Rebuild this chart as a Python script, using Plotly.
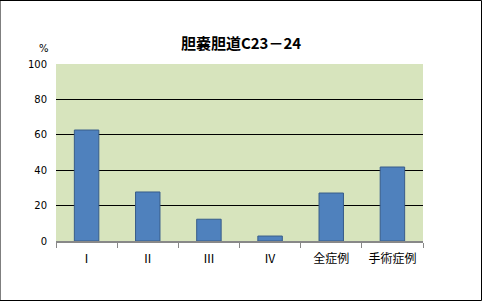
import plotly.graph_objects as go

categories = ["Ⅰ", "Ⅱ", "Ⅲ", "Ⅳ", "全症例", "手術症例"]
values = [62.7, 27.7, 12.3, 2.8, 27.1, 41.8]
y_ticks = [0, 20, 40, 60, 80, 100]

fig = go.Figure()
fig.add_trace(go.Bar(
    x=categories, y=values,
    marker=dict(color="#4F81BD", line=dict(color="#385D8A", width=1)),
    width=0.4,
))

fig.update_layout(
    width=482, height=301,
    margin=dict(l=56, r=59, t=64, b=60),
    paper_bgcolor="white",
    plot_bgcolor="#D7E4BD",
    showlegend=False,
    title=dict(text="<b>胆嚢胆道C23－24</b>", x=0.5, xanchor="center", y=0.855, yanchor="middle",
               font=dict(family="Noto Sans CJK JP", size=15, color="black")),
    xaxis=dict(
        tickson="boundaries", ticks="outside", ticklen=5, tickcolor="#888888",
        showline=True, linecolor="#888888", linewidth=1.5, showgrid=False,
        ticklabelstandoff=6,
        tickfont=dict(family="Noto Sans CJK JP", size=12, color="black"),
    ),
    yaxis=dict(
        range=[0, 100], tickvals=y_ticks, showgrid=True, gridcolor="black", gridwidth=1,
        zeroline=False, showline=False, ticks="", ticklabelstandoff=8,
        tickfont=dict(family="DejaVu Sans", size=10, color="black"),
    ),
    shapes=[dict(type="rect", xref="paper", yref="paper", x0=-56/367, x1=1+58.5/367,
                 y0=-59.5/177, y1=1+63.5/177, line=dict(color="black", width=1))],
    annotations=[dict(text="%", xref="paper", yref="paper", x=-19/367, y=1+23/177,
                      showarrow=False, font=dict(family="DejaVu Sans", size=10, color="black"))],
)

fig.write_html("out.html")
